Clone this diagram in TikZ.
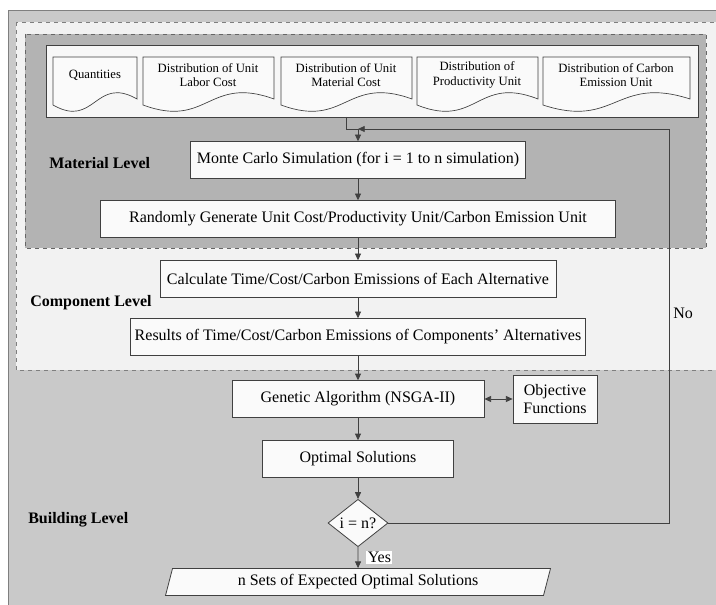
\documentclass[tikz,border=0pt]{standalone}
\usepackage{fontspec}
\setmainfont{Liberation Serif}
\usetikzlibrary{shapes.geometric,arrows.meta}

\definecolor{buildgray}{HTML}{C9C9C9}
\definecolor{compgray}{HTML}{F2F2F2}
\definecolor{matgray}{HTML}{B3B3B3}
\definecolor{framegray}{HTML}{7F7F7F}
\definecolor{linegray}{HTML}{404040}
\definecolor{boxwhite}{HTML}{FAFAFA}

\tikzset{
	procbox/.style={draw=linegray, fill=boxwhite, line width=0.6pt, minimum height=27.5pt, inner sep=2pt, font=\fontsize{12}{13.5}\selectfont},
	docline/.style={draw=linegray, fill=boxwhite, line width=0.5pt},
	doctext/.style={align=center, inner sep=0pt, font=\fontsize{9.5}{11}\selectfont},
	levellabel/.style={anchor=west, inner sep=0pt, font=\bfseries\fontsize{12}{13.5}\selectfont},
	flow/.style={draw=linegray, line width=0.6pt},
	arr/.style={flow, -{Triangle[length=5pt,width=4.5pt]}},
}

\begin{document}
\begin{tikzpicture}[x=0.75pt,y=0.75pt,yscale=-1,xscale=1]
	\useasboundingbox (0,0) rectangle (716,605);

	% level frames
	\draw[draw=framegray, fill=buildgray, line width=0.6pt] (8,10) rectangle (730,620);
	\draw[draw=framegray, fill=compgray, dashed, line width=0.5pt] (16,22) rectangle (725,370);
	\draw[draw=framegray!80!black, fill=matgray, dashed, line width=0.5pt] (25,34) rectangle (706,248);

	% inputs
	\node[draw=linegray, fill=compgray!60!white, line width=0.6pt, minimum width=489pt, minimum height=54pt] (banner) at (372,81) {};
	\draw[docline] (53,57) -- (137,57) -- (137,99) .. controls (95,75) and (95,129) .. (53,105) -- cycle;
	\draw[docline] (143,57) -- (274,57) -- (274,99) .. controls (208,75) and (208,129) .. (143,105) -- cycle;
	\draw[docline] (281,57) -- (412,57) -- (412,99) .. controls (346,75) and (346,129) .. (281,105) -- cycle;
	\draw[docline] (417,57) -- (538,57) -- (538,99) .. controls (477,75) and (477,129) .. (417,105) -- cycle;
	\draw[docline] (543,57) -- (690,57) -- (690,99) .. controls (616,75) and (616,129) .. (543,105) -- cycle;
	\node[doctext] (docqty) at (95,75) {Quantities};
	\node[doctext] (doclab) at (208,75) {Distribution of Unit\\Labor Cost};
	\node[doctext] (docmat) at (346,75) {Distribution of Unit\\Material Cost};
	\node[doctext] (docprod) at (477,75) {Distribution of\\Productivity Unit};
	\node[doctext] (doccarb) at (616,75) {Distribution of Carbon\\Emission Unit};

	% process
	\node[procbox, minimum width=251.25pt] (mc) at (358,160) {Monte Carlo Simulation (for i = 1 to n simulation)};
	\node[procbox, minimum width=386.25pt] (gen) at (358,219) {Randomly Generate Unit Cost/Productivity Unit/Carbon Emission Unit};
	\node[procbox, minimum width=297pt] (calc) at (358,279) {Calculate Time/Cost/Carbon Emissions of Each Alternative};
	\node[procbox, minimum width=341.25pt] (res) at (358,337) {Results of Time/Cost/Carbon Emissions of Components' Alternatives};
	\node[procbox, minimum width=189pt] (ga) at (358,399) {Genetic Algorithm (NSGA-II)};
	\node[procbox, minimum width=63pt, minimum height=36pt, align=center, inner sep=1pt] (obj) at (555,399) {Objective\\Functions};
	\node[procbox, minimum width=143.25pt] (opt) at (358,459) {Optimal Solutions};
	\node[procbox, diamond, inner sep=0pt, minimum width=45pt, minimum height=33pt] (dec) at (358,523) {i = n?};
	\node[procbox, trapezium, trapezium left angle=68, trapezium right angle=112, trapezium stretches body, minimum width=288.75pt, minimum height=20.25pt, inner sep=1pt] (sets) at (358,582) {n Sets of Expected Optimal Solutions};

	% levels
	\node[levellabel] (matlvl) at (49,163) {Material Level};
	\node[levellabel] (complvl) at (30,303) {Component Level};
	\node[levellabel] (buildlvl) at (28,520) {Building Level};

	% flow
	\coordinate (tap) at (346,117);
	\coordinate (join) at (358,129);
	\coordinate (turn) at (669,129);
	\draw[flow] (tap) |- (join);
	\draw[arr] (join) -- (mc);
	\draw[arr] (mc) -- (gen);
	\draw[arr] (gen) -- (calc);
	\draw[arr] (calc) -- (res);
	\draw[arr] (res) -- (ga);
	\draw[flow, {Triangle[length=5pt,width=4.5pt]}-{Triangle[length=5pt,width=4.5pt]}] (ga) -- (obj);
	\draw[arr] (ga) -- (opt);
	\draw[arr] (opt) -- (dec);
	\draw[arr] (dec) -- (sets) node[midway, right=6pt, fill=white, inner sep=1pt, font=\fontsize{12}{13.5}\selectfont] (yes) {Yes};
	\draw[arr] (dec.east) -| (turn) -- (join);
	\node[anchor=west, inner sep=0pt, font=\fontsize{12}{13.5}\selectfont] (no) at (673,313) {No};
\end{tikzpicture}
\end{document}
